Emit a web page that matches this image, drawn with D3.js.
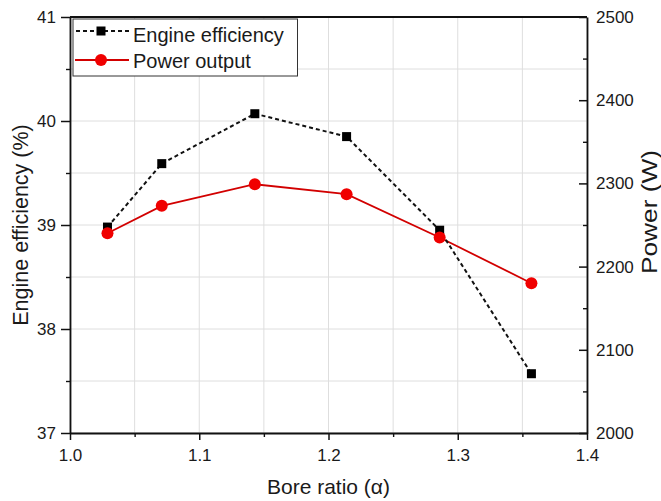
<!DOCTYPE html>
<html>
<head>
<meta charset="utf-8">
<script src="https://cdn.jsdelivr.net/npm/d3@7"></script>
<style>
  html, body { margin: 0; padding: 0; background: #fff; }
  svg text { font-family: "Liberation Sans", Arial, sans-serif; fill: #1a1a1a; }
</style>
</head>
<body>
<svg id="chart" width="661" height="501"></svg>
<script>
// Bore ratio on the x axis
const boreRatio = [1.029, 1.071, 1.143, 1.214, 1.286, 1.357];
// Engine efficiency (%), left axis
const efficiency = [38.98, 39.59, 40.07, 39.85, 38.95, 37.57];
// Power output (W), right axis
const power = [2240, 2273, 2299, 2287, 2235, 2180];

const xTicks = [1.0, 1.1, 1.2, 1.3, 1.4];
const effTicks = [37, 38, 39, 40, 41];
const powTicks = [2000, 2100, 2200, 2300, 2400, 2500];
const seriesNames = ["Engine efficiency", "Power output"];

const svg = d3.select("#chart");
const m = { left: 70, right: 587, top: 17, bottom: 433 };

const x = d3.scaleLinear().domain([1.0, 1.4]).range([m.left, m.right]);
const yL = d3.scaleLinear().domain([37, 41]).range([m.bottom, m.top]);
const yR = d3.scaleLinear().domain([2000, 2500]).range([m.bottom, m.top]);

// grid at major and minor positions
const xGrid = d3.range(1.0, 1.4001, 0.05);
const yGrid = d3.range(37, 41.001, 0.5);
const grid = svg.append("g");
grid.selectAll("line.v").data(xGrid).join("line")
  .attr("x1", d => x(d)).attr("x2", d => x(d))
  .attr("y1", m.top).attr("y2", m.bottom)
  .attr("stroke", "#dedede").attr("stroke-width", 1);
grid.selectAll("line.h").data(yGrid).join("line")
  .attr("y1", d => yL(d)).attr("y2", d => yL(d))
  .attr("x1", m.left).attr("x2", m.right)
  .attr("stroke", "#dedede").attr("stroke-width", 1);

// frame top
svg.append("line").attr("x1", m.left).attr("x2", m.right)
  .attr("y1", m.top).attr("y2", m.top).attr("stroke", "#111").attr("stroke-width", 1.8);

function styleAxis(g) {
  g.select(".domain").attr("stroke", "#111").attr("stroke-width", 1.8);
  g.selectAll(".tick line").attr("stroke", "#111").attr("stroke-width", 1.5);
  g.selectAll(".tick text").style("font-size", "17px").attr("fill", "#1a1a1a");
}

// minor ticks
function minor(axisGen, vals, size, tr) {
  const g = svg.append("g").attr("transform", tr)
    .call(axisGen.tickValues(vals).tickSizeInner(size).tickSizeOuter(0).tickFormat(""));
  g.select(".domain").remove();
  g.selectAll(".tick line").attr("stroke", "#111").attr("stroke-width", 1.4);
}
minor(d3.axisBottom(x), [1.05, 1.15, 1.25, 1.35], 4, `translate(0,${m.bottom})`);
minor(d3.axisLeft(yL), [37.5, 38.5, 39.5, 40.5], 4, `translate(${m.left},0)`);
minor(d3.axisRight(yR), [2050, 2150, 2250, 2350, 2450], -4, `translate(${m.right},0)`);

svg.append("g").attr("transform", `translate(0,${m.bottom})`)
  .call(d3.axisBottom(x).tickValues(xTicks).tickSizeInner(7).tickSizeOuter(0).tickPadding(9)
    .tickFormat(d3.format(".1f")))
  .call(styleAxis);
svg.append("g").attr("transform", `translate(${m.left},0)`)
  .call(d3.axisLeft(yL).tickValues(effTicks).tickSizeInner(9).tickSizeOuter(0).tickPadding(5)
    .tickFormat(d3.format("d")))
  .call(styleAxis);
svg.append("g").attr("transform", `translate(${m.right},0)`)
  .call(d3.axisRight(yR).tickValues(powTicks).tickSizeInner(-8).tickSizeOuter(0).tickPadding(9)
    .tickFormat(d3.format("d")))
  .call(styleAxis);

// axis titles
svg.append("text").attr("x", (m.left + m.right) / 2).attr("y", 494)
  .attr("text-anchor", "middle").style("font-size", "21px").text("Bore ratio (α)");
svg.append("text").attr("transform", "translate(28,225) rotate(-90)")
  .attr("text-anchor", "middle").style("font-size", "21.5px").text("Engine efficiency (%)");
svg.append("text").attr("transform", "translate(657,212) rotate(-90)")
  .attr("text-anchor", "middle").style("font-size", "22.5px")
  .attr("textLength", 124).attr("lengthAdjust", "spacingAndGlyphs").text("Power (W)");

// series
const effLine = d3.line().x((d, i) => x(boreRatio[i])).y(d => yL(d));
const powLine = d3.line().x((d, i) => x(boreRatio[i])).y(d => yR(d));

svg.append("path").datum(power).attr("d", powLine)
  .attr("fill", "none").attr("stroke", "#d20000").attr("stroke-width", 1.8);
svg.append("path").datum(efficiency).attr("d", effLine)
  .attr("fill", "none").attr("stroke", "#111").attr("stroke-width", 2)
  .attr("stroke-dasharray", "4,3");

svg.selectAll("rect.eff").data(efficiency).join("rect")
  .attr("x", (d, i) => x(boreRatio[i]) - 4.5).attr("y", d => yL(d) - 4.5)
  .attr("width", 9).attr("height", 9).attr("fill", "#000");
svg.selectAll("circle.pow").data(power).join("circle")
  .attr("cx", (d, i) => x(boreRatio[i])).attr("cy", d => yR(d))
  .attr("r", 6).attr("fill", "#f00000");

// legend
const lg = svg.append("g");
lg.append("rect").attr("x", 73).attr("y", 19).attr("width", 224.5).attr("height", 57)
  .attr("fill", "#fff").attr("stroke", "#333").attr("stroke-width", 1);
lg.append("line").attr("x1", 76).attr("x2", 129).attr("y1", 31).attr("y2", 31)
  .attr("stroke", "#111").attr("stroke-width", 2).attr("stroke-dasharray", "4,3");
lg.append("rect").attr("x", 96.5).attr("y", 26.5).attr("width", 9).attr("height", 9).attr("fill", "#000");
lg.append("line").attr("x1", 75).attr("x2", 129).attr("y1", 60).attr("y2", 60)
  .attr("stroke", "#d20000").attr("stroke-width", 1.8);
lg.append("circle").attr("cx", 101).attr("cy", 60).attr("r", 6).attr("fill", "#f00000");
lg.selectAll("text.lg").data(seriesNames).join("text")
  .attr("x", 133).attr("y", (d, i) => 41.5 + i * 26.5)
  .style("font-size", "20px").text(d => d);
</script>
</body>
</html>
